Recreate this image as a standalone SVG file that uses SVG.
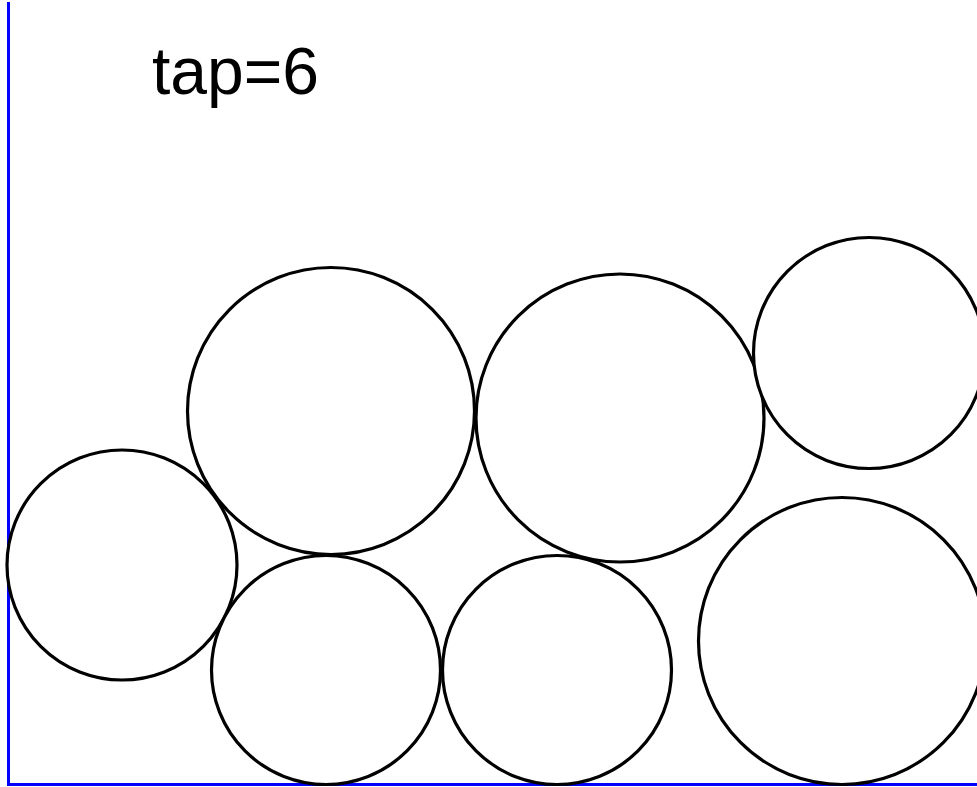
<svg xmlns="http://www.w3.org/2000/svg" width="977" height="787" viewBox="0 0 977 787">
  <style>
    .ball { fill: #ffffff; stroke: #000000; stroke-width: 3.2; }
    .wall { stroke: #0000ff; stroke-width: 3; fill: none; }
    .label { font-family: "Liberation Sans", Arial, sans-serif; font-size: 66px; fill: #000000; }
  </style>
  <rect width="977" height="787" fill="#ffffff"/>
  <!-- container walls -->
  <polyline class="wall" points="8.5,2 8.5,784.5 977,784.5"/>
  <!-- packed discs -->
  <g id="discs">
    <circle class="ball" cx="122" cy="565" r="115"/>
    <circle class="ball" cx="331" cy="411" r="143.5"/>
    <circle class="ball" cx="620" cy="418" r="144"/>
    <circle class="ball" cx="869" cy="353" r="115.5"/>
    <circle class="ball" cx="326" cy="670" r="114.5"/>
    <circle class="ball" cx="557" cy="670" r="114.5"/>
    <circle class="ball" cx="842" cy="641" r="143.5"/>
  </g>
  <text class="label" x="152" y="94">tap=6</text>
</svg>
